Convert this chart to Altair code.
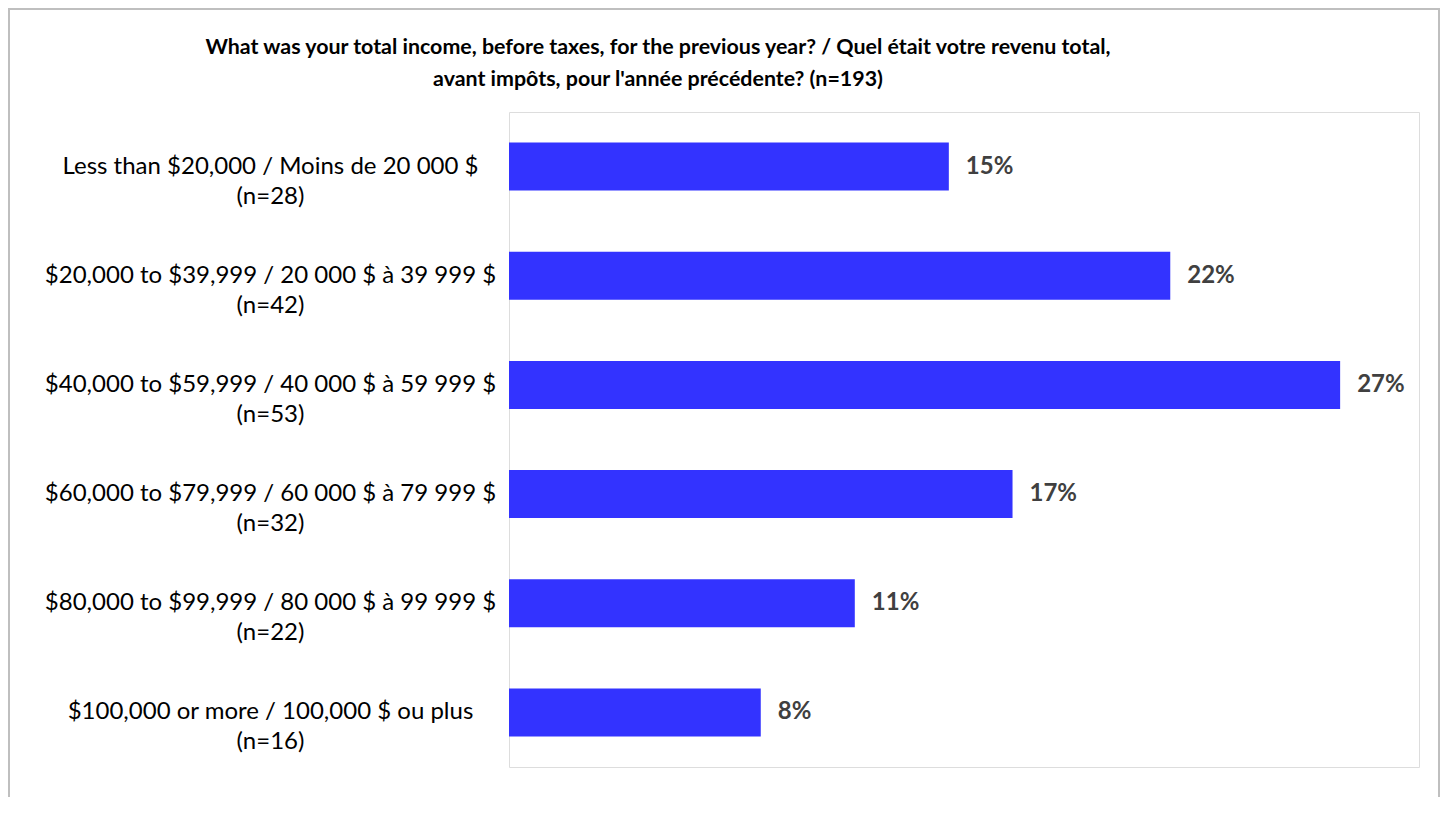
import altair as alt
import pandas as pd

# ---- data ----
categories = [
    "Less than $20,000 / Moins de 20 000 $",
    "$20,000 to $39,999 / 20 000 $ à 39 999 $",
    "$40,000 to $59,999 / 40 000 $ à 59 999 $",
    "$60,000 to $79,999 / 60 000 $ à 79 999 $",
    "$80,000 to $99,999 / 80 000 $ à 99 999 $",
    "$100,000 or more / 100,000 $ ou plus",
]
counts = ["(n=28)", "(n=42)", "(n=53)", "(n=32)", "(n=22)", "(n=16)"]
percent = [14.5, 21.8, 27.4, 16.6, 11.4, 8.3]
title_lines = [
    "What was your total income, before taxes, for the previous year? / Quel était votre revenu total,",
    "avant impôts, pour l'année précédente? (n=193)",
]

df = pd.DataFrame({
    "cat": [f"{c}|{n}" for c, n in zip(categories, counts)],
    "pct": percent,
})
order = list(df["cat"])

FONT = "Lato"
BAR = "#3333FF"
GRID = "#BFBFBF"

y_enc = alt.Y(
    "cat:N",
    sort=order,
    title=None,
    scale=alt.Scale(paddingInner=0.56, paddingOuter=0.28),
    axis=alt.Axis(
        labelExpr="split(datum.label, '|')",
        labelAlign="center",
        labelBaseline="middle",
        labelPadding=239,
        labelLineHeight=30,
        labelFont=FONT,
        labelFontSize=24,
        labelColor="#000000",
        labelLimit=0,
        ticks=False,
        domain=False,
        grid=False,
    ),
)
x_enc = alt.X("pct:Q", scale=alt.Scale(domain=[0, 30], nice=False), axis=None)

one = pd.DataFrame({"a": [0]})

frame = alt.Chart(one).mark_rect(
    fill=None, stroke=GRID, strokeWidth=2
).encode(
    x=alt.value(-500), x2=alt.value(930), y=alt.value(-103), y2=alt.value(760)
)

title = alt.Chart(one).mark_text(
    align="center", baseline="middle", font=FONT, fontSize=21.4,
    fontWeight="bold", color="#000000", lineHeight=32
).encode(
    x=alt.value(149), y=alt.value(-64), text=alt.value(title_lines)
)

bars = alt.Chart(df).mark_bar(color=BAR).encode(x=x_enc, y=y_enc)

labels = alt.Chart(df).transform_calculate(
    lab="format(datum.pct, '.0f') + '%'"
).mark_text(
    align="left", baseline="middle", dx=17, font=FONT, fontSize=24,
    fontWeight="bold", color="#404040"
).encode(
    x=x_enc, y=y_enc, text="lab:N"
)

chart = alt.layer(frame, title, bars, labels).properties(
    width=910,
    height=655,
    padding={"left": 501, "top": 104, "right": 21, "bottom": 30},
    autosize=alt.AutoSizeParams(type="none"),
).configure_view(stroke=GRID, strokeWidth=1.5).configure(background="#FFFFFF")

chart.save("out.html", embed_options={"renderer": "svg", "actions": False})
